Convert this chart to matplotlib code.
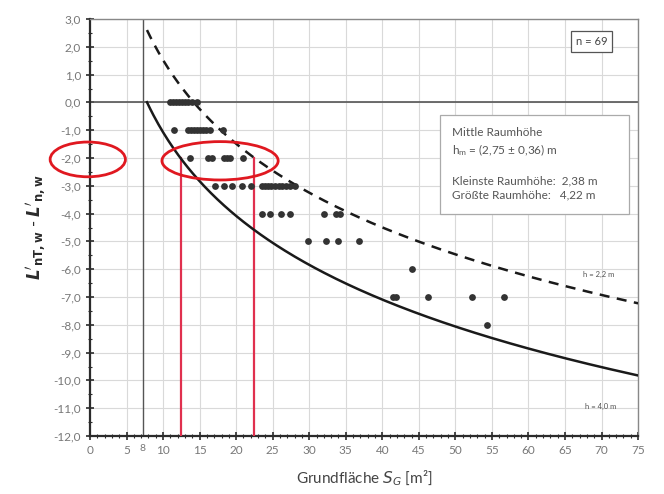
import matplotlib; matplotlib.use("Agg")
import matplotlib.pyplot as plt
from matplotlib.patches import Ellipse, Rectangle
from matplotlib.ticker import MultipleLocator, FuncFormatter
import numpy as np

INK = "#2b2b2b"; GRID = "#d9d9d9"; TICK = "#777777"; RED = "#e0304e"
plt.rcParams.update({"font.family": ["Lato", "DejaVu Sans"], "text.color": INK})

# measured points: floor area S_G [m2] and L'nT,w - L'n,w [dB]
area = [11.0, 11.4, 11.8, 12.2, 12.6, 13.0, 13.4, 14.0, 14.6,
        11.5, 13.4, 13.8, 14.2, 14.6, 15.0, 15.4, 15.9, 16.4, 18.2,
        13.7, 16.1, 16.7, 18.3, 18.7, 19.1, 21.0,
        17.1, 18.3, 19.4, 20.8, 22.1, 23.6, 24.0, 24.4, 24.8, 25.3, 25.8, 26.3, 26.8, 27.4, 28.1,
        23.6, 24.6, 26.2, 27.4, 32.0, 33.6, 34.2,
        29.9, 32.3, 33.9, 36.8,
        44.1,
        41.4, 41.9, 46.3, 52.3, 56.6,
        54.3]
diff = [0, 0, 0, 0, 0, 0, 0, 0, 0,
        -1, -1, -1, -1, -1, -1, -1, -1, -1, -1,
        -2, -2, -2, -2, -2, -2, -2,
        -3, -3, -3, -3, -3, -3, -3, -3, -3, -3, -3, -3, -3, -3, -3,
        -4, -4, -4, -4, -4, -4, -4,
        -5, -5, -5, -5,
        -6,
        -7, -7, -7, -7, -7,
        -8]

# reference curves: -10 lg(0.032 * S * h)
heights = [2.2, 4.0]
curve_labels = ["h = 2,2 m", "h = 4,0 m"]
curve_start = [7.8, 7.8]
red_lines = [12.4, 22.4]
min_area = 7.2

fig = plt.figure(figsize=(6.64, 4.94), dpi=100)
ax = fig.add_axes([0.1355, 0.1174, 0.8255, 0.8441])
ax.set_xlim(0, 75); ax.set_ylim(-12, 3)

ax.xaxis.set_major_locator(MultipleLocator(5)); ax.xaxis.set_minor_locator(MultipleLocator(1))
ax.yaxis.set_major_locator(MultipleLocator(1)); ax.yaxis.set_minor_locator(MultipleLocator(0.5))
ax.yaxis.set_major_formatter(FuncFormatter(lambda v, p: ("%.1f" % v).replace(".", ",")))
ax.xaxis.set_major_formatter(FuncFormatter(lambda v, p: "%d" % v))
ax.grid(True, which="major", color=GRID, lw=0.8); ax.set_axisbelow(True)
ax.tick_params(which="both", direction="inout", colors=INK, labelcolor=TICK, labelsize=8.5)
ax.tick_params(which="major", length=6, width=1.2); ax.tick_params(which="minor", length=3, width=0.8)
for sp in ["left", "bottom"]:
    ax.spines[sp].set_color(INK); ax.spines[sp].set_linewidth(1.6)
for sp in ["top", "right"]:
    ax.spines[sp].set_color("#888888"); ax.spines[sp].set_linewidth(1.0)

ax.axhline(0, color="#555555", lw=1.2, zorder=2)
ax.axvline(min_area, color="#555555", lw=1.0, zorder=2)
ax.annotate("8", (min_area, -12), xytext=(0, -5.5), textcoords="offset points",
            ha="center", va="top", fontsize=7.5, color=TICK)

styles = ["--", "-"]
for h, lab, s0, ls in zip(heights, curve_labels, curve_start, styles):
    s = np.linspace(s0, 75, 300)
    ax.plot(s, -10 * np.log10(0.032 * s * h), color="#1a1a1a", lw=1.8, ls=ls, zorder=4,
            dashes=(4, 3) if ls == "--" else (None, None))
ax.text(67.5, -6.2, curve_labels[0], fontsize=5.5, color="#555555", va="center")
ax.text(67.8, -10.95, curve_labels[1], fontsize=5.5, color="#555555", va="center")

for x in red_lines:
    ax.plot([x, x], [-2, -12], color=RED, lw=1.6, zorder=3)

ax.scatter(area, diff, s=24, color="#333333", zorder=5, lw=0)

ax.text(68.6, 2.2, "n = 69", fontsize=8, ha="center", va="center", color="#444444",
        bbox=dict(boxstyle="square,pad=0.45", fc="white", ec="#555555", lw=0.9))
ax.add_patch(Rectangle((47.9, -4.0), 25.8, 3.56, fc="white", ec="#aaaaaa", lw=0.9, zorder=6))
box_txt = ("Mittle Raumhöhe\n$\\mathregular{h_m}$ = (2,75 ± 0,36) m\n\n"
           "Kleinste Raumhöhe:  2,38 m\nGrößte Raumhöhe:   4,22 m")
ax.text(49.6, -2.2, box_txt, fontsize=8.5, va="center", ha="left", color="#555555",
        linespacing=1.35, zorder=7)

ax.add_patch(Ellipse((-0.3, -2.05), 10.3, 1.25, fill=False, ec="#e01820", lw=2.0,
                     clip_on=False, zorder=8))
ax.add_patch(Ellipse((17.8, -2.1), 15.9, 1.38, fill=False, ec="#e01820", lw=2.0,
                     clip_on=False, zorder=8))

ax.set_xlabel("Grundfläche $S_G$ [m²]", fontsize=11, color="#444444", labelpad=9)
ax.set_ylabel("$\\mathbfit{L}'_{\\mathbf{nT,w}}$ - $\\mathbfit{L}'_{\\mathbf{n,w}}$",
              fontsize=12, color=INK, labelpad=4)

fig.savefig("out.png", dpi=100, facecolor="white")
